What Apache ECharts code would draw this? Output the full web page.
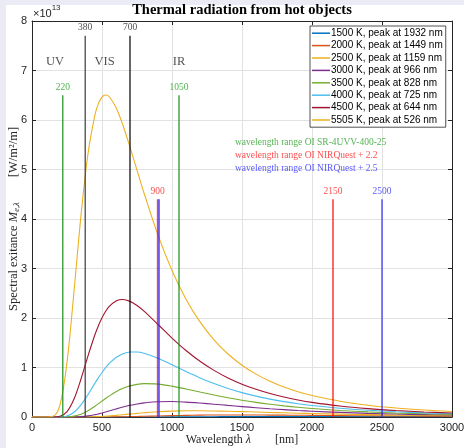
<!DOCTYPE html>
<html><head><meta charset="utf-8">
<script src="https://cdn.jsdelivr.net/npm/echarts@6/dist/echarts.min.js"></script>
<style>
html,body{margin:0;padding:0;background:#ebebf6;width:464px;height:448px;overflow:hidden;}
#bg{position:absolute;left:6px;top:5px;width:458px;height:443px;background:#fff;}
#c{position:absolute;left:0;top:0;width:464px;height:448px;}
</style>
</head><body><div id="bg"></div><div id="c"></div>
<script>
// ---- data (values in units of 1e13 W/m^2/m) ----
const wavelengthNm = [0,50,100,150,200,250,300,350,400,450,475,500,525,550,600,650,700,750,800,900,1000,1100,1200,1300,1400,1500,1600,1700,1800,1900,2000,2200,2400,2600,2800,3000];
const temperaturesK = [1500,2000,2500,3000,3500,4000,4500,5505];
const peakNm = [1932,1449,1159,966,828,725,644,526];
const m1500 = [0,0,0,0,0,0,0,0,0,0,0,0,0,0,0,0,0.0002,0.0004,0.0007,0.0015,0.0026,0.0038,0.0051,0.0063,0.0074,0.0083,0.0089,0.0094,0.0097,0.0098,0.0097,0.0094,0.0088,0.0081,0.0073,0.0066];
const m2000 = [0,0,0,0,0,0,0,0,0,0,0.0004,0.0007,0.0011,0.0015,0.0030,0.0050,0.0077,0.0108,0.0142,0.0214,0.0281,0.0336,0.0376,0.0400,0.0411,0.0411,0.0402,0.0388,0.0371,0.0351,0.0330,0.0287,0.0247,0.0211,0.0180,0.0154];
const m2500 = [0,0,0,0,0,0,0,0,0.0021,0.0057,0.0085,0.0120,0.0163,0.0212,0.0329,0.0461,0.0599,0.0734,0.0858,0.1060,0.1189,0.1248,0.1253,0.1219,0.1160,0.1086,0.1006,0.0924,0.0844,0.0768,0.0697,0.0573,0.0470,0.0387,0.0319,0.0265];
const m3000 = [0,0,0,0,0,0,0.0018,0.0080,0.0227,0.0477,0.0638,0.0818,0.1011,0.1214,0.1626,0.2015,0.2358,0.2639,0.2852,0.3088,0.3118,0.3007,0.2815,0.2583,0.2339,0.2100,0.1875,0.1668,0.1482,0.1316,0.1169,0.0925,0.0737,0.0591,0.0478,0.0390];
const m3500 = [0,0,0,0,0,0.0028,0.0172,0.0565,0.1257,0.2186,0.2698,0.3219,0.3731,0.4221,0.5096,0.5789,0.6285,0.6594,0.6738,0.6648,0.6236,0.5670,0.5055,0.4455,0.3898,0.3399,0.2960,0.2577,0.2247,0.1962,0.1717,0.1325,0.1034,0.0816,0.0651,0.0524];
const m4000 = [0,0,0,0,0.0018,0.0216,0.0956,0.2452,0.4544,0.6851,0.7964,0.9000,0.9935,1.0755,1.2017,1.2792,1.3136,1.3138,1.2875,1.1863,1.0544,0.9179,0.7900,0.6760,0.5770,0.4927,0.4213,0.3611,0.3106,0.2679,0.2320,0.1758,0.1352,0.1054,0.0832,0.0665];
const m4500 = [0,0,0,0.0003,0.0133,0.1070,0.3620,0.7682,1.2345,1.6661,1.8485,2.0037,2.1300,2.2279,2.3452,2.3739,2.3359,2.2516,2.1379,1.8690,1.5946,1.3435,1.1257,0.9420,0.7893,0.6634,0.5596,0.4741,0.4035,0.3450,0.2963,0.2216,0.1685,0.1301,0.1019,0.0809];
const m5505 = [0,0,0,0.0134,0.2469,1.1048,2.5349,4.0734,5.3176,6.1085,6.3353,6.4630,6.5053,6.4750,6.2540,5.8900,5.4526,4.9872,4.5258,3.6742,2.9584,2.3803,1.9209,1.5584,1.2723,1.0459,0.8658,0.7215,0.6053,0.5110,0.4340,0.3184,0.2384,0.1818,0.1409,0.1108];
const curves = [m1500,m2000,m2500,m3000,m3500,m4000,m4500,m5505];

// vertical marker lines (wavelength nm, top value)
const markerNm    = [220, 1050, 380, 700, 897, 907, 2150, 2500];
const markerTop   = [6.5, 6.5, 7.7, 7.7, 4.4, 4.4, 4.4, 4.4];
const markerLabel = ['220','1050','380','700','900','','2150','2500'];
const regionNames = ['UV','VIS','IR'];
const rangeNotes = ['wavelength range OI SR-4UVV-400-25','wavelength range OI NIRQuest + 2.2','wavelength range OI NIRQuest + 2.5'];
const xTicks = [0,500,1000,1500,2000,2500,3000];
const yTicks = [0,1,2,3,4,5,6,7,8];

// ---- styles / layout ----
const curveColors = ['#0072BD','#D95319','#EDB120','#7E2F8E','#77AC30','#4DBEEE','#A2142F','#EDB120'];
const markerColors = ['#1b8e1b','#1b8e1b','#3a3a3a','#000000','rgba(255,0,0,0.75)','rgba(40,40,255,0.65)','rgba(255,0,0,0.6)','rgba(40,40,255,0.6)'];
const markerWidths = [1.2,1.2,1.2,1.2,1.5,2,2,2];
const markerTextColors = ['#22a022','#22a022','#262626','#262626','#ff2020','#3030ff','#ff2020','#3030ff'];
const regionPos = [[164,7.18],[518,7.18],[1050,7.18]];
const notePos = [[1450,5.54],[1450,5.29],[1450,5.02]];
const noteColors = ['#2aa02a','#ff2020','#3030ff'];
const SERIF = '"Liberation Serif", "Times New Roman", serif';
const SANS = '"Liberation Sans", Arial, Helvetica, sans-serif';
const AX = '#262626';

const names = temperaturesK.map((t,i)=>`${t} K, peak at ${peakNm[i]} nm`);
const series = [];
curves.forEach((vals,i)=>{
  series.push({
    name: names[i], type:'line', smooth:0.35, showSymbol:false, z:2,
    color: curveColors[i],
    lineStyle:{width:1.1, color:curveColors[i]},
    data: wavelengthNm.map((w,j)=>[w, vals[j]])
  });
});
markerNm.forEach((nm,i)=>{
  series.push({
    type:'line', showSymbol:false, z:3, silent:true,
    lineStyle:{width:markerWidths[i], color:markerColors[i]},
    data:[[nm,0],[nm,markerTop[i]]]
  });
});
series.push({
  type:'scatter', symbolSize:0, z:4, silent:true,
  data: markerNm.map((nm,i)=>({value:[nm, markerTop[i]], label:{show: markerLabel[i]!=='', formatter: markerLabel[i], position:'top', distance:3, color:markerTextColors[i], fontSize:9.5, fontFamily:SERIF}}))
});
series.push({
  type:'scatter', symbolSize:0, z:4, silent:true,
  data: regionNames.map((n,i)=>({value:regionPos[i], label:{show:true, formatter:n, position:'inside', color:AX, fontSize:12.5, fontFamily:SERIF}}))
});
series.push({
  type:'scatter', symbolSize:0, z:4, silent:true,
  data: rangeNotes.map((n,i)=>({value:notePos[i], label:{show:true, formatter:n, position:'right', distance:0, color:noteColors[i], fontSize:9.5, fontFamily:SERIF}}))
});

const baseAxis = {
  type:'value',
  axisLine:{show:true, onZero:false, lineStyle:{color:AX, width:1}},
  axisTick:{show:true, inside:true, length:4, lineStyle:{color:AX}},
};
const chart = echarts.init(document.getElementById('c'), null, {renderer:'canvas'});
chart.setOption({
  animation:false,
  backgroundColor:'transparent',
  grid:{left:32, right:12, top:21, bottom:31, containLabel:false, outerBoundsMode:'none'},
  legend:{
    data: names, orient:'vertical', left:310, top:26,
    backgroundColor:'#ffffff', borderColor:'#262626', borderWidth:0.8,
    padding:[1,3,1,2], itemGap:0, itemWidth:18, itemHeight:1.5, icon:'rect',
    textStyle:{fontSize:10, fontFamily:SANS, color:'#000', lineHeight:12.4, padding:[0,0,0,-4]},
    selectedMode:false
  },
  xAxis:[
    Object.assign({}, baseAxis, {
      min:xTicks[0], max:xTicks[xTicks.length-1], interval:xTicks[1]-xTicks[0], position:'bottom',
      axisLabel:{color:AX, fontSize:11, fontFamily:SANS, margin:5, formatter:v=>String(v)},
      splitLine:{show:true, lineStyle:{color:'#e2e2e2', width:1}},
      name:'{t|Wavelength }{i|λ}{t|\u2003\u2003[nm]}', nameLocation:'middle', nameGap:16.5, nameMoveOverlap:false,
      nameTextStyle:{verticalAlign:'top', rich:{t:{fontSize:12, fontFamily:SERIF, color:AX}, i:{fontSize:12, fontFamily:SERIF, fontStyle:'italic', color:AX}}}
    }),
    Object.assign({}, baseAxis, {
      min:xTicks[0], max:xTicks[xTicks.length-1], interval:xTicks[1]-xTicks[0], position:'top',
      axisLabel:{show:false}, splitLine:{show:false}
    })
  ],
  yAxis:[
    Object.assign({}, baseAxis, {
      min:yTicks[0], max:yTicks[yTicks.length-1], interval:1, position:'left',
      axisLabel:{color:AX, fontSize:11, fontFamily:SANS, margin:5, formatter:v=>String(v)},
      splitLine:{show:true, lineStyle:{color:'#e2e2e2', width:1}},
      name:'{t|Spectral exitance }{i|M}{s|e,λ}{t|\u2003\u2003[W/m²/m]}', nameLocation:'middle', nameGap:11, nameRotate:90, nameMoveOverlap:false,
      nameTextStyle:{rich:{
        t:{fontSize:12.5, fontFamily:SERIF, color:AX},
        i:{fontSize:12.5, fontFamily:SERIF, fontStyle:'italic', color:AX},
        s:{fontSize:8.5, fontFamily:SERIF, fontStyle:'italic', color:AX, padding:[5,0,0,0]}
      }}
    }),
    Object.assign({}, baseAxis, {
      min:yTicks[0], max:yTicks[yTicks.length-1], interval:1, position:'right',
      axisLabel:{show:false}, splitLine:{show:false}
    })
  ],
  graphic:[
    {type:'text', x:242, y:10, style:{text:'Thermal radiation from hot objects', font:'bold 14.5px '+SERIF, fill:'#000', textAlign:'center', textVerticalAlign:'middle'}},
    {type:'text', x:33, y:3, style:{text:'{a|×10}{b|13}', rich:{a:{font:'11px '+SANS, fill:AX, padding:[5,0,0,0]}, b:{font:'8px '+SANS, fill:AX, padding:[0,0,6,0]}}, fill:AX}}
  ],
  series: series
});
</script>
</body></html>
